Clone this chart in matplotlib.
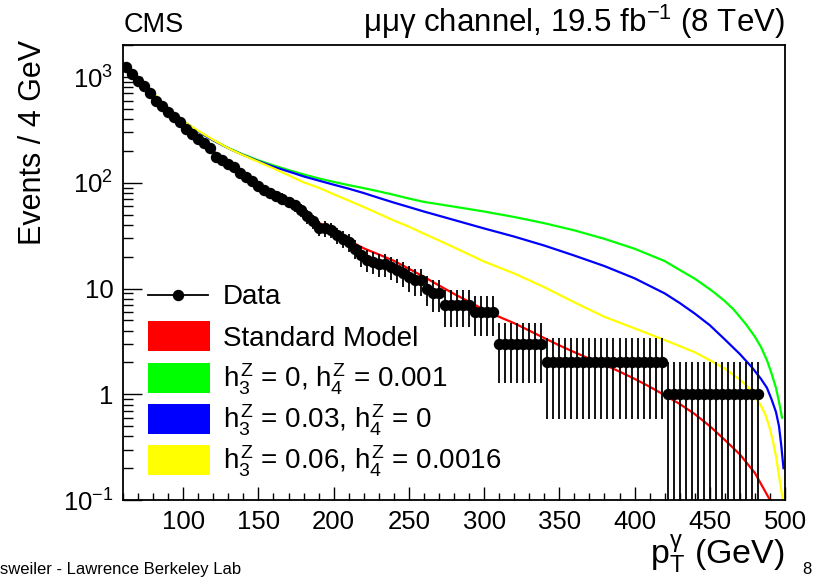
import numpy as np
import matplotlib
matplotlib.use("Agg")
import matplotlib.pyplot as plt
from matplotlib.ticker import FixedLocator, MultipleLocator, LogLocator, NullFormatter, FixedFormatter
from matplotlib.patches import Rectangle
from matplotlib.lines import Line2D

plt.rcParams['font.family'] = ['Liberation Sans', 'DejaVu Sans']
plt.rcParams['mathtext.fontset'] = 'custom'
plt.rcParams['mathtext.rm'] = 'Liberation Sans'
plt.rcParams['mathtext.it'] = 'Liberation Sans'
plt.rcParams['mathtext.bf'] = 'Liberation Sans:bold'

# ---------------- data ----------------
pt_centers = np.arange(62, 483, 4)          # 4 GeV bins
data_values = ([1240, 1065, 920, 815, 700, 600, 527, 466, 415, 372,
                324, 288, 260, 237, 212, 177, 166, 152, 140, 125,
                113, 104, 93, 85, 80, 75, 71, 66, 61, 55,
                48, 43.5, 37.5, 37, 36, 32, 29.7, 27.6, 23.9, 20.6,
                18.8, 17.9, 17, 17, 16, 15.1, 14, 12.9, 12, 12,
                10, 9, 9]
               + [7] * 5 + [6] * 4 + [3] * 8 + [2] * 20 + [1] * 16)
data_values = np.array(data_values, dtype=float)
data_err = np.sqrt(data_values)

sm_x = [60, 70, 80, 90, 100, 110, 120, 130, 140, 150, 160, 170, 180, 190, 200,
        210, 220, 230, 240, 250, 260, 270, 280, 290, 300, 310, 320, 330, 340, 350,
        360, 370, 380, 390, 400, 410, 420, 430, 440, 450, 460, 470, 480, 490, 495]
sm_y = [1380, 950, 680, 490, 350, 265, 200, 155, 122, 96, 78, 64, 52, 42, 35,
        28.5, 24, 21, 18.3, 15.4, 12.9, 10.7, 8.9, 7.5, 6.3, 5.4, 4.7, 4.0, 3.4, 2.9,
        2.5, 2.17, 1.9, 1.64, 1.4, 1.18, 0.98, 0.81, 0.65, 0.5, 0.37, 0.27, 0.18, 0.1, 0.07]

green_x = [60, 70, 80, 90, 100, 110, 120, 130, 140, 150, 160, 170, 180, 190, 200,
           210, 220, 230, 240, 250, 260, 280, 300, 320, 340, 360, 380, 400, 420, 430,
           440, 452, 460, 466, 474, 480, 484, 488, 491, 494, 496, 498]
green_y = [1380, 970, 695, 505, 382, 305, 252, 213, 185, 163, 146, 132, 120, 110, 102,
           95, 89, 83, 77, 71, 66, 59.5, 53.5, 47.5, 41.5, 35.5, 29.5, 23.8, 18.2, 15.0,
           12.4, 9.4, 7.6, 6.3, 4.6, 3.5, 2.8, 2.1, 1.58, 1.15, 0.85, 0.6]

blue_x = [60, 70, 80, 90, 100, 110, 120, 130, 140, 150, 160, 170, 180, 190, 200,
          210, 220, 230, 240, 250, 260, 270, 280, 300, 320, 340, 360, 380, 400, 420,
          430, 440, 450, 460, 470, 478, 484, 488, 491, 494, 496, 497.5, 499]
blue_y = [1380, 970, 695, 505, 382, 305, 252, 212, 183, 160, 142, 128, 115, 105, 96,
          88, 80, 72, 65, 59, 53.5, 48.8, 44.5, 37, 31, 25.5, 20.5, 16.3, 12.5, 9.0,
          7.3, 5.8, 4.5, 3.3, 2.4, 1.8, 1.4, 1.15, 0.9, 0.68, 0.5, 0.33, 0.2]

yellow_x = [60, 70, 80, 90, 100, 110, 120, 130, 140, 150, 160, 170, 180, 190, 200,
            210, 220, 230, 240, 250, 260, 270, 280, 290, 300, 310, 320, 340, 360, 380,
            400, 420, 440, 450, 460, 470, 476, 480, 484, 487, 490, 492, 494, 496, 498.5]
yellow_y = [1380, 985, 705, 505, 382, 310, 255, 212, 182, 158, 137, 118, 101, 90, 78,
            68, 59, 51, 44, 38.5, 33, 28.5, 24.5, 21, 18, 15.8, 13.9, 10.3, 7.4, 5.4,
            4.2, 3.26, 2.5, 2.1, 1.75, 1.38, 1.15, 0.95, 0.78, 0.64, 0.47, 0.36, 0.26, 0.17, 0.1]

legend_labels = ["Data", "Standard Model",
                 r"$h_{3}^{Z}$ = 0, $h_{4}^{Z}$ = 0.001",
                 r"$h_{3}^{Z}$ = 0.03, $h_{4}^{Z}$ = 0",
                 r"$h_{3}^{Z}$ = 0.06, $h_{4}^{Z}$ = 0.0016"]
curve_colors = ["#ff0000", "#00ff00", "#0000ff", "#ffff00"]

x_ticks = [100, 150, 200, 250, 300, 350, 400, 450, 500]
y_ticks = [0.1, 1, 10, 100, 1000]
y_tick_labels = [r"$10^{-1}$", "1", "10", r"$10^{2}$", r"$10^{3}$"]

# ---------------- figure ----------------
W, H = 813, 578
fig = plt.figure(figsize=(W / 100, H / 100), dpi=100)
ax = fig.add_axes([123 / W, 78 / H, 662 / W, 455 / H])

for (cx, cy), col in zip([(sm_x, sm_y), (green_x, green_y), (blue_x, blue_y), (yellow_x, yellow_y)],
                         curve_colors):
    ax.plot(cx, cy, color=col, lw=1.6, solid_joinstyle='round', zorder=2)

lower = np.minimum(data_err, data_values - 1e-4)
ax.errorbar(pt_centers, data_values, yerr=[lower, data_err], fmt='o', color='black',
            ms=7.2, elinewidth=1.3, capsize=0, zorder=3)

ax.set_yscale('log')
ax.set_xlim(60, 500)
ax.set_ylim(0.1, 2010)

ax.xaxis.set_major_locator(FixedLocator(x_ticks))
ax.xaxis.set_minor_locator(MultipleLocator(10))
ax.set_xticklabels([str(v) for v in x_ticks])
ax.yaxis.set_major_locator(FixedLocator(y_ticks))
ax.yaxis.set_major_formatter(FixedFormatter(y_tick_labels))
ax.yaxis.set_minor_locator(LogLocator(base=10, subs=np.arange(2, 10)))
ax.yaxis.set_minor_formatter(NullFormatter())

ax.tick_params(axis='both', which='both', direction='in', top=False, right=False, labelsize=18.5)
ax.tick_params(axis='x', which='major', length=9.5, width=1.0, pad=7)
ax.tick_params(axis='x', which='minor', length=4.8, width=1.0)
ax.tick_params(axis='y', which='major', length=13.5, width=1.0, pad=7)
ax.tick_params(axis='y', which='minor', length=7, width=1.0)
for s in ax.spines.values():
    s.set_linewidth(1.3)

# axis titles
fig.text(785 / W, 1 - 564 / H, r"$\mathrm{p}_{\mathrm{T}}^{\gamma}$ (GeV)", ha='right',
         va='baseline', fontsize=24.5)
fig.text(33 / W, 1 - 40 / H, "Events / 4 GeV", rotation=90, ha='center', va='top', fontsize=22)

# header
fig.text(124 / W, 1 - 32 / H, "CMS", ha='left', va='baseline', fontsize=19.5)
fig.text(785 / W, 1 - 32 / H, "μμγ channel, 19.5 fb$^{-1}$ (8 TeV)", ha='right',
         va='baseline', fontsize=22.5)

# legend (manual, ROOT style)
def fx(px):
    return px / W

def fy(py):
    return 1 - py / H

rows = [295, 336, 378, 419, 460]
fig.add_artist(Line2D([fx(148), fx(208)], [fy(rows[0])] * 2, color='black', lw=1.3))
fig.add_artist(Line2D([fx(178)], [fy(rows[0])], marker='o', color='black', ms=7.2))
for r, col in zip(rows[1:], curve_colors):
    fig.add_artist(Rectangle((fx(148), fy(r + 15)), fx(62), 30 / H, facecolor=col,
                             edgecolor='none'))
for r, lab in zip(rows, legend_labels):
    fig.text(fx(223), fy(r + 9.5), lab, ha='left', va='baseline', fontsize=20)

# slide footer remnants
fig.text(0, 1 / H, "sweiler - Lawrence Berkeley Lab", ha='left', va='bottom', fontsize=12)
fig.text(802 / W, 1 / H, "8", ha='left', va='bottom', fontsize=12)

fig.savefig("out.png", dpi=100)
